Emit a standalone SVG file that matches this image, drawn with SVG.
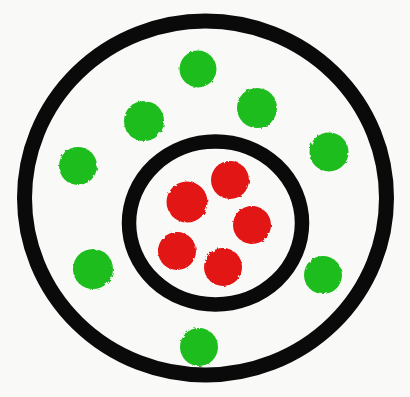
<svg xmlns="http://www.w3.org/2000/svg" width="410" height="397" viewBox="0 0 410 397">
  <style>
    .ring { fill: none; stroke: #0a0a0a; }
    .g { fill: #1fbd1f; }
    .r { fill: #e31212; }
  </style>
  <defs>
    <filter id="rough" x="-20%" y="-20%" width="140%" height="140%">
      <feTurbulence type="fractalNoise" baseFrequency="0.25" numOctaves="2" seed="3" result="n"/>
      <feDisplacementMap in="SourceGraphic" in2="n" scale="3"/>
    </filter>
  </defs>
  <rect width="410" height="397" fill="#f9f9f7"/>
  <g id="outer-ring">
    <ellipse class="ring" cx="205.5" cy="198" rx="181" ry="177" stroke-width="15"/>
  </g>
  <g id="inner-ring">
    <ellipse class="ring" cx="215.5" cy="223" rx="86.5" ry="81.5" stroke-width="14.5"/>
  </g>
  <g id="green-dots" filter="url(#rough)">
    <circle class="g" cx="198" cy="69" r="18.5"/>
    <circle class="g" cx="257" cy="108" r="20"/>
    <circle class="g" cx="144" cy="121" r="20"/>
    <circle class="g" cx="78" cy="166" r="19"/>
    <circle class="g" cx="329" cy="152" r="19.5"/>
    <circle class="g" cx="93" cy="269" r="20"/>
    <circle class="g" cx="323" cy="275" r="19"/>
    <circle class="g" cx="199" cy="347" r="19"/>
  </g>
  <g id="red-dots" filter="url(#rough)">
    <circle class="r" cx="230" cy="180" r="19"/>
    <circle class="r" cx="187" cy="202" r="20.5"/>
    <circle class="r" cx="252" cy="225" r="19"/>
    <circle class="r" cx="177" cy="251" r="19"/>
    <circle class="r" cx="223" cy="267" r="19"/>
  </g>
</svg>
